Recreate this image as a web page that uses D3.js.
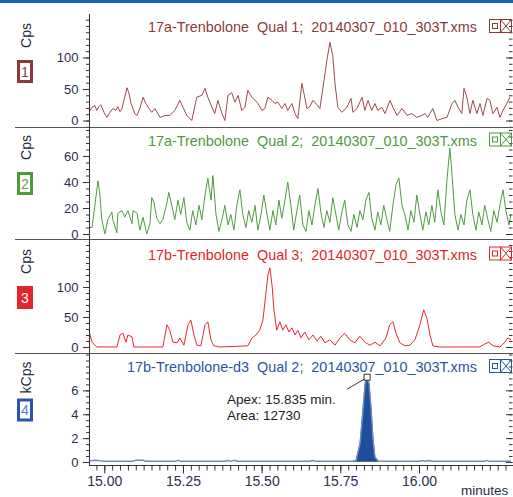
<!DOCTYPE html>
<html>
<head>
<meta charset="utf-8">
<script src="https://cdnjs.cloudflare.com/ajax/libs/d3/7.8.5/d3.min.js"></script>
<style>
  body { margin: 0; background: #fff; }
  svg { display: block; font-family: "Liberation Sans", Arial, sans-serif; }
  .title { white-space: pre; }
</style>
</head>
<body>
<div id="chart"></div>
<script>
// ---- data ----
const qual1Time = [14.951,14.961,14.970,14.976,14.983,14.989,14.999,15.008,15.018,15.027,15.037,15.043,15.050,15.056,15.065,15.072,15.078,15.085,15.091,15.097,15.104,15.113,15.123,15.132,15.142,15.151,15.161,15.177,15.193,15.208,15.224,15.240,15.250,15.262,15.278,15.294,15.310,15.320,15.329,15.342,15.351,15.361,15.374,15.383,15.393,15.405,15.415,15.425,15.437,15.447,15.456,15.469,15.479,15.488,15.501,15.510,15.520,15.533,15.542,15.552,15.564,15.574,15.583,15.596,15.606,15.615,15.628,15.634,15.644,15.653,15.663,15.676,15.685,15.698,15.707,15.717,15.726,15.733,15.742,15.755,15.771,15.784,15.790,15.803,15.819,15.828,15.838,15.850,15.860,15.869,15.882,15.892,15.908,15.917,15.930,15.946,15.962,15.977,15.993,16.009,16.019,16.028,16.044,16.057,16.073,16.089,16.105,16.114,16.124,16.136,16.143,16.152,16.162,16.171,16.184,16.194,16.203,16.216,16.225,16.235,16.248,16.257,16.267,16.279,16.289];
const qual1Cps = [13,21,24,16,22,25,13,5,13,19,16,22,14,19,37,52,44,27,19,11,8,19,37,27,19,13,19,5,8,8,16,32,21,8,0,37,40,51,37,21,11,32,11,0,40,44,29,40,16,21,48,37,32,27,16,19,37,32,27,29,19,27,16,27,11,3,59,44,19,22,32,25,19,63,95,124,103,59,21,13,21,35,13,19,37,16,32,16,27,16,21,11,32,21,8,19,8,11,5,8,11,5,19,0,3,5,27,32,21,11,51,37,11,32,11,27,8,35,32,11,21,5,16,27,37];

const qual2Time = [14.951,14.961,14.970,14.980,14.986,14.992,15.002,15.011,15.024,15.027,15.040,15.043,15.056,15.065,15.075,15.088,15.091,15.104,15.113,15.123,15.135,15.145,15.151,15.158,15.167,15.177,15.186,15.199,15.205,15.218,15.224,15.234,15.243,15.253,15.262,15.272,15.281,15.291,15.301,15.310,15.320,15.329,15.339,15.345,15.355,15.364,15.374,15.383,15.393,15.402,15.412,15.421,15.431,15.440,15.450,15.459,15.469,15.479,15.488,15.498,15.507,15.517,15.526,15.536,15.545,15.555,15.564,15.574,15.583,15.593,15.602,15.612,15.621,15.631,15.641,15.650,15.660,15.669,15.679,15.688,15.698,15.707,15.717,15.726,15.736,15.745,15.755,15.764,15.774,15.784,15.793,15.803,15.812,15.822,15.831,15.841,15.850,15.860,15.869,15.879,15.888,15.898,15.907,15.917,15.927,15.936,15.946,15.955,15.965,15.974,15.984,15.993,16.003,16.012,16.022,16.031,16.041,16.050,16.060,16.069,16.079,16.089,16.098,16.104,16.114,16.124,16.133,16.143,16.152,16.162,16.171,16.181,16.190,16.200,16.209,16.219,16.228,16.238,16.248,16.257,16.267,16.276,16.286,16.292];
const qual2Cps = [5,5,22,41,30,11,0,11,17,11,1,16,18,13,18,8,18,16,3,13,0,8,28,24,12,8,11,24,32,18,11,26,15,28,9,3,18,7,22,11,30,43,26,45,15,2,11,22,7,15,3,22,34,15,5,18,9,22,3,15,30,15,3,18,7,26,12,26,40,22,3,18,30,7,2,18,7,22,35,17,5,18,9,28,15,3,17,26,7,2,15,5,18,11,26,32,12,3,17,7,22,11,2,22,38,43,22,15,3,18,9,30,15,3,17,7,22,9,34,18,7,42,66,49,15,3,15,7,26,34,15,3,17,7,22,11,2,18,9,22,34,18,7,15];

const qual3Time = [14.951,14.961,14.976,15.040,15.050,15.059,15.069,15.075,15.088,15.094,15.186,15.199,15.208,15.218,15.231,15.240,15.253,15.266,15.275,15.285,15.294,15.307,15.320,15.329,15.339,15.348,15.367,15.456,15.469,15.482,15.494,15.504,15.513,15.520,15.526,15.533,15.539,15.548,15.558,15.567,15.577,15.587,15.596,15.606,15.615,15.625,15.637,15.650,15.663,15.676,15.688,15.701,15.717,15.733,15.749,15.764,15.780,15.796,15.812,15.828,15.844,15.860,15.876,15.895,15.907,15.917,15.927,15.939,15.955,15.971,15.987,16.003,16.015,16.025,16.035,16.044,16.066,16.193,16.209,16.222,16.235,16.257,16.273,16.282,16.292];
const qual3Cps = [28,8,0,0,20,23,8,20,17,0,0,37,28,8,7,15,3,37,45,20,3,2,37,42,12,2,0,2,15,20,28,45,87,120,132,103,62,28,42,28,37,25,32,20,28,15,25,12,20,10,18,7,12,3,15,23,12,7,18,8,3,8,2,15,37,42,23,7,2,3,12,37,62,48,20,2,0,0,5,8,2,0,8,15,12];

const d3Time = [14.951,14.970,14.986,14.999,15.091,15.100,15.123,15.132,15.227,15.234,15.243,15.383,15.393,15.402,15.412,15.425,15.653,15.663,15.672,15.790,15.800,15.813,15.822,15.829,15.835,15.841,15.848,15.854,15.860,15.870,15.892,16.003,16.009,16.019,16.031,16.041,16.209,16.216,16.225,16.292];
const d3KCps = [0.08,0.15,0.12,0.06,0.06,0.15,0.15,0.06,0.06,0.14,0.06,0.06,0.13,0.06,0.14,0.06,0.06,0.13,0.06,0.06,0.1,1.6,4.3,6.6,7.1,6.6,4.3,1.8,0.4,0.08,0.06,0.06,0.13,0.06,0.13,0.06,0.06,0.13,0.06,0.06];

const peakStart = 15.790, peakEnd = 15.870;
const apexTime = 15.835, apexValue = 7.1;
const apexText = ['Apex: 15.835 min.', 'Area: 12730'];

const traceTitles = [
  '17a-Trenbolone  Qual 1;  20140307_010_303T.xms',
  '17a-Trenbolone  Qual 2;  20140307_010_303T.xms',
  '17b-Trenbolone  Qual 3;  20140307_010_303T.xms',
  '17b-Trenbolone-d3  Qual 2;  20140307_010_303T.xms'
];
const unitLabels = ['Cps', 'Cps', 'Cps', 'kCps'];
const panelNumbers = ['1', '2', '3', '4'];
const yTickLabels = [[0, 50, 100], [0, 20, 40, 60], [0, 50, 100], [0, 2, 4, 6]];
const xTickLabels = [15.00, 15.25, 15.50, 15.75, 16.00];

// ---- layout ----
const width = 513, height = 497;
const left = 89, right = 511;

const panels = [
  { time: qual1Time, vals: qual1Cps, top: 14, bottom: 127, dom: [-10.3, 169], minor: 10,
    color: '#8b3a3a', line: '#9c4b4b', box: 'outline', digit: '#8b3a3a' },
  { time: qual2Time, vals: qual2Cps, top: 126, bottom: 239, dom: [-3.85, 83.1], minor: 5,
    color: '#4e9a3c', line: '#4f9b3f', box: 'outline', digit: '#6aa83a' },
  { time: qual3Time, vals: qual3Cps, top: 240, bottom: 353, dom: [-10, 178.3], minor: 10,
    color: '#e3262b', line: '#e8282b', box: 'filled', digit: '#fff' },
  { time: d3Time, vals: d3KCps, top: 352.5, bottom: 465, dom: [-0.25, 9.17], minor: 0.5,
    color: '#2a55a5', line: '#6a8cc8', box: 'outline', digit: '#5b7fc4' }
];

const svg = d3.select('#chart').append('svg')
  .attr('width', width)
  .attr('height', height);

const x = d3.scaleLinear().domain([15, 16]).range([104.3, 419]);

// top blue bar
svg.append('rect').attr('x', 0).attr('y', 0).attr('width', width).attr('height', 3).attr('fill', '#1268b3');

function styleTicks(sel) {
  sel.selectAll('.domain').remove();
  sel.selectAll('line').attr('stroke', '#333');
  sel.selectAll('text')
    .attr('fill', '#2a3050')
    .attr('font-family', '"Liberation Sans", Arial, sans-serif');
}

panels.forEach((p, i) => {
  const y = d3.scaleLinear().domain(p.dom).range([p.bottom, p.top]);
  const g = svg.append('g');

  // clip for the trace
  svg.append('clipPath').attr('id', 'clip' + i)
    .append('rect').attr('x', left).attr('y', p.top).attr('width', right - left).attr('height', p.bottom - p.top);

  const data = p.time.map((t, k) => [t, p.vals[k]]);

  if (i === 3) {
    // filled peak
    const peak = data.filter(d => d[0] >= peakStart && d[0] <= peakEnd);
    g.append('path')
      .datum(peak)
      .attr('clip-path', `url(#clip${i})`)
      .attr('d', d3.area().x(d => x(d[0])).y0(y(peak[0][1])).y1(d => y(d[1])))
      .attr('fill', '#1f4f9b')
      .attr('stroke', '#1a2a55')
      .attr('stroke-width', 0.8);
  }

  g.append('path')
    .datum(data)
    .attr('clip-path', `url(#clip${i})`)
    .attr('d', d3.line().x(d => x(d[0])).y(d => y(d[1])))
    .attr('fill', 'none')
    .attr('stroke', p.line)
    .attr('stroke-width', i === 3 ? 1.4 : 1);

  // left axis: minor and major ticks in separate groups
  const yMinor = d3.range(Math.ceil(p.dom[0] / p.minor) * p.minor, p.dom[1], p.minor);
  const laMinor = g.append('g').attr('transform', `translate(${left + 0.5},0)`)
    .call(d3.axisLeft(y).tickValues(yMinor).tickSize(3.5).tickFormat(''));
  styleTicks(laMinor);
  const la = g.append('g').attr('transform', `translate(${left + 0.5},0)`)
    .call(d3.axisLeft(y).tickValues(yTickLabels[i]).tickSize(6.5).tickPadding(4.5).tickSizeOuter(0));
  styleTicks(la);
  la.selectAll('text').attr('font-size', 13);

  // right axis ticks
  const raMinor = g.append('g').attr('transform', `translate(${right + 1.5},0)`)
    .call(d3.axisRight(y).tickValues(yMinor).tickSize(-3.5).tickFormat(''));
  styleTicks(raMinor);
  const ra = g.append('g').attr('transform', `translate(${right + 1.5},0)`)
    .call(d3.axisRight(y).tickValues(yTickLabels[i]).tickSize(-6.5).tickFormat(''));
  styleTicks(ra);

  // unit label
  svg.append('text')
    .attr('transform', `translate(31,${p.top + 9}) rotate(-90)`)
    .attr('text-anchor', 'end')
    .attr('font-size', 14)
    .attr('fill', '#2a2a3a')
    .text(unitLabels[i]);

  // numbered box
  const by = p.top + 46;
  svg.append('rect')
    .attr('x', 18.5).attr('y', by + 1.5).attr('width', 13).attr('height', 20)
    .attr('fill', p.box === 'filled' ? p.color : '#fff')
    .attr('stroke', p.color).attr('stroke-width', 3);
  svg.append('text')
    .attr('x', 25).attr('y', by + 16.5)
    .attr('text-anchor', 'middle')
    .attr('font-size', 14)
    .attr('fill', p.digit)
    .text(panelNumbers[i]);

  // title
  const ty = p.top + (i === 0 ? 18 : 19.5);
  svg.append('text')
    .attr('class', 'title')
    .attr('x', 477).attr('y', ty)
    .attr('text-anchor', 'end')
    .attr('font-size', 14.4)
    .attr('fill', p.color)
    .text(traceTitles[i]);

  // small window icons
  const iy = ty - 13;
  const ic = svg.append('g').attr('stroke', p.color).attr('fill', 'none').attr('stroke-width', 1);
  ic.append('rect').attr('x', 489.5).attr('y', iy + 0.5).attr('width', 11).attr('height', 13);
  ic.append('rect').attr('x', 492.5).attr('y', iy + 4.5).attr('width', 5).attr('height', 5);
  ic.append('rect').attr('x', 500.5).attr('y', iy + 0.5).attr('width', 11).attr('height', 13);
  ic.append('line').attr('x1', 500.5).attr('y1', iy + 0.5).attr('x2', 511.5).attr('y2', iy + 13.5);
  ic.append('line').attr('x1', 511.5).attr('y1', iy + 0.5).attr('x2', 500.5).attr('y2', iy + 13.5);

  // separator line under panels 1-3
  if (i < 3) {
    svg.append('line')
      .attr('x1', 15).attr('x2', width)
      .attr('y1', p.bottom + 0.5).attr('y2', p.bottom + 0.5)
      .attr('stroke', '#555');
  }

  if (i === 3) {
    // apex marker and annotation
    const ax = x(apexTime), ay = y(apexValue);
    svg.append('line')
      .attr('x1', ax - 3).attr('y1', ay + 2)
      .attr('x2', 347).attr('y2', ay + 12)
      .attr('stroke', '#333');
    svg.append('rect')
      .attr('x', ax - 3).attr('y', ay - 3).attr('width', 6).attr('height', 6)
      .attr('fill', '#fff').attr('stroke', '#333');
    apexText.forEach((s, k) => {
      svg.append('text')
        .attr('x', 227).attr('y', 404 + k * 16)
        .attr('font-size', 13.5)
        .attr('fill', '#222')
        .text(s);
    });
  }
});

// left axis line
svg.append('line')
  .attr('x1', left + 0.5).attr('x2', left + 0.5)
  .attr('y1', 14).attr('y2', 465)
  .attr('stroke', '#333');

// x axis
const xMinor = d3.range(14.975, 16.3, 0.025);
const xaMinor = svg.append('g').attr('transform', 'translate(0,465.5)')
  .call(d3.axisBottom(x).tickValues(xMinor).tickSize(5).tickFormat(''));
styleTicks(xaMinor);
const xa = svg.append('g').attr('transform', 'translate(0,465.5)')
  .call(d3.axisBottom(x).tickValues(xTickLabels).tickSize(8).tickPadding(3).tickFormat(d3.format('.2f')));
styleTicks(xa);
xa.selectAll('text').attr('font-size', 14);
svg.append('line')
  .attr('x1', left).attr('x2', width)
  .attr('y1', 465.5).attr('y2', 465.5)
  .attr('stroke', '#333');

svg.append('text')
  .attr('x', 461).attr('y', 495)
  .attr('font-size', 13.5)
  .attr('fill', '#2a3050')
  .text('minutes');
</script>
</body>
</html>
